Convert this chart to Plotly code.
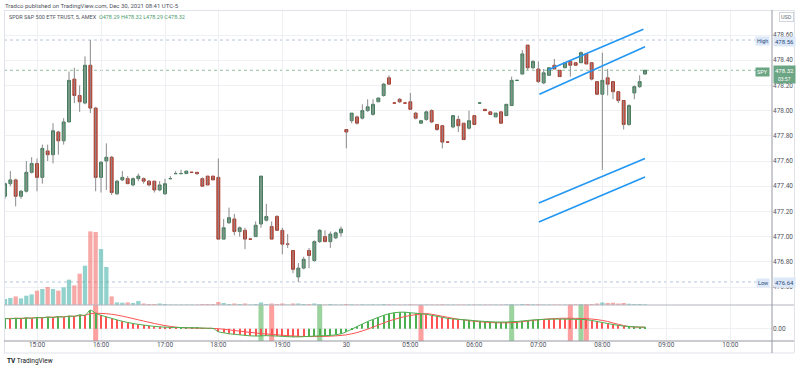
import plotly.graph_objects as go

# ---------------- data ----------------
bar_index = list(range(121))
opens = [477.32,477.42,477.45,477.32,477.36,477.51,477.58,477.47,477.68,477.65,477.83,477.76,477.91,478.25,478.12,478.06,478.36,478.02,477.47,477.60,
         477.63,477.34,477.45,477.46,477.41,477.46,477.46,477.44,477.44,477.37,477.34,477.46,477.50,477.50,477.50,477.51,477.51,477.46,477.48,477.48,
         477.47,476.98,477.11,477.14,477.04,477.05,476.98,477.00,477.10,477.13,477.08,477.16,477.05,476.94,476.89,476.68,476.75,476.89,476.81,476.96,
         477.00,476.96,476.99,477.03,477.85,477.92,477.95,477.94,478.00,477.97,478.07,478.12,478.26,478.06,478.09,478.06,478.07,477.98,477.90,477.93,
         478.00,477.89,477.88,477.75,477.87,477.93,477.90,477.86,477.96,478.06,478.01,477.99,477.95,477.99,477.96,478.04,478.24,478.29,478.52,478.34,
         478.33,478.22,478.28,478.36,478.32,478.34,478.39,478.38,478.38,478.45,478.38,478.23,478.13,478.26,478.23,478.15,478.08,477.89,478.14,478.19,
         478.29]
highs = [477.43,477.52,477.46,477.37,477.60,477.63,477.62,477.73,477.73,477.90,477.84,477.94,478.31,478.34,478.20,478.43,478.56,478.03,477.60,477.74,
         477.64,477.45,477.52,477.48,477.47,477.50,477.47,477.45,477.44,477.44,477.46,477.48,477.52,477.53,477.52,477.51,477.51,477.47,477.48,477.48,
         477.62,477.14,477.23,477.18,477.08,477.07,476.99,477.12,477.48,477.26,477.12,477.17,477.07,477.02,476.89,476.79,476.84,476.91,476.97,477.06,
         477.05,477.04,477.04,477.08,477.85,477.98,477.96,478.05,478.09,478.09,478.10,478.22,478.28,478.06,478.10,478.06,478.14,477.99,477.92,478.00,
         478.01,477.89,477.88,477.75,477.96,477.96,477.90,478.00,477.96,478.06,478.01,477.99,477.98,477.99,478.05,478.27,478.24,478.48,478.52,478.40,
         478.39,478.33,478.34,478.41,478.32,478.38,478.39,478.38,478.47,478.45,478.38,478.23,478.46,478.33,478.23,478.15,478.08,478.05,478.20,478.28,
         478.32]
lows = [477.30,477.40,477.24,477.30,477.35,477.50,477.36,477.42,477.60,477.58,477.65,477.73,477.91,478.06,477.99,478.05,477.98,477.36,477.35,477.37,
        477.33,477.33,477.44,477.42,477.40,477.44,477.42,477.40,477.35,477.36,477.33,477.46,477.50,477.50,477.50,477.51,477.49,477.40,477.41,477.45,
        476.98,476.98,477.10,477.01,477.00,476.90,476.98,477.00,477.07,477.12,476.98,477.05,476.86,476.91,476.71,476.64,476.74,476.75,476.80,476.95,
        476.96,476.91,476.98,477.00,477.70,477.90,477.89,477.93,477.99,477.96,478.07,478.11,478.21,478.06,478.06,478.06,478.01,477.93,477.90,477.92,
        477.90,477.84,477.70,477.75,477.86,477.83,477.77,477.85,477.89,478.06,478.00,477.97,477.95,477.90,477.96,478.04,478.24,478.29,478.32,478.33,
        478.22,478.21,478.28,478.33,478.27,478.34,478.27,478.36,478.38,478.37,478.24,478.13,477.53,478.12,478.09,478.06,477.85,477.88,478.09,478.18,
        478.29]
closes = [477.42,477.45,477.32,477.36,477.51,477.58,477.47,477.70,477.65,477.84,477.76,477.91,478.24,478.12,478.07,478.36,478.02,477.47,477.59,477.63,
          477.35,477.44,477.47,477.42,477.46,477.48,477.44,477.41,477.37,477.41,477.42,477.46,477.50,477.50,477.52,477.51,477.50,477.40,477.41,477.45,
          476.98,477.07,477.15,477.04,477.07,476.98,476.98,477.09,477.48,477.16,476.98,477.05,476.94,476.94,476.74,476.75,476.82,476.85,476.96,477.05,
          476.96,477.02,477.03,477.06,477.83,477.98,477.90,478.00,478.03,478.05,478.10,478.21,478.21,478.06,478.07,478.06,478.01,477.94,477.92,477.99,
          477.91,477.85,477.75,477.75,477.96,477.88,477.77,477.92,477.89,478.06,478.00,477.97,477.98,477.90,478.05,478.24,478.24,478.45,478.34,478.39,
          478.23,478.30,478.34,478.33,478.27,478.38,478.36,478.36,478.46,478.37,478.25,478.13,478.24,478.21,478.15,478.08,477.89,478.04,478.19,478.23,
          478.32]
volume_k = [120,140,172,132,186,212,286,320,360,320,286,352,506,392,626,786,1472,1460,1120,760,
            172,52,46,52,40,80,30,20,20,30,20,10,10,10,10,10,10,20,20,20,
            60,40,20,30,20,30,10,20,50,20,30,20,30,10,30,30,20,20,30,20,
            10,20,10,10,20,15,10,15,10,15,10,20,15,10,10,10,15,10,10,10,
            10,10,15,10,10,10,10,10,10,10,10,10,10,10,15,20,10,20,20,15,
            15,10,10,10,10,10,15,15,20,20,20,30,50,40,45,30,40,25,20,20,
            15]
osc_fast = [0.100,0.095,0.102,0.097,0.106,0.100,0.110,0.104,0.114,0.108,0.118,0.112,0.124,0.118,0.135,0.128,0.18,0.15,0.13,0.115,
            0.100,0.085,0.072,0.060,0.050,0.042,0.035,0.028,0.022,0.018,0.015,0.012,0.012,0.011,0.010,0.009,0.008,0.006,0.004,0.002,
            -0.03,-0.04,-0.05,-0.055,-0.06,-0.065,-0.07,-0.072,-0.07,-0.068,-0.07,-0.072,-0.075,-0.078,-0.08,-0.08,-0.078,-0.075,-0.072,-0.07,
            -0.068,-0.066,-0.06,-0.05,-0.03,-0.005,0.02,0.045,0.07,0.09,0.11,0.13,0.145,0.155,0.16,0.16,0.155,0.15,0.145,0.14,
            0.13,0.12,0.11,0.10,0.095,0.09,0.087,0.083,0.078,0.074,0.070,0.067,0.065,0.064,0.065,0.068,0.070,0.075,0.080,0.085,
            0.088,0.090,0.092,0.093,0.093,0.093,0.092,0.091,0.090,0.087,0.080,0.070,0.060,0.050,0.040,0.032,0.025,0.021,0.018,0.016,
            0.015]
osc_slow = [0.098,0.099,0.100,0.101,0.102,0.104,0.106,0.108,0.110,0.112,0.114,0.116,0.119,0.122,0.126,0.131,0.145,0.15,0.148,0.145,
            0.140,0.132,0.122,0.110,0.098,0.086,0.074,0.062,0.050,0.040,0.030,0.022,0.015,0.010,0.008,0.006,0.005,0.004,0.003,0.002,
            0.0,-0.006,-0.012,-0.018,-0.024,-0.03,-0.036,-0.042,-0.047,-0.052,-0.056,-0.06,-0.064,-0.068,-0.071,-0.074,-0.076,-0.077,-0.077,-0.076,
            -0.075,-0.073,-0.07,-0.066,-0.06,-0.05,-0.038,-0.022,-0.005,0.015,0.035,0.055,0.075,0.09,0.105,0.118,0.128,0.136,0.142,0.146,
            0.140,0.130,0.120,0.110,0.100,0.092,0.085,0.078,0.072,0.067,0.063,0.060,0.058,0.057,0.057,0.058,0.062,0.068,0.074,0.080,
            0.086,0.091,0.095,0.098,0.100,0.101,0.101,0.100,0.099,0.097,0.094,0.088,0.080,0.070,0.055,0.042,0.030,0.020,0.016,0.014,
            0.013]
signal_up_bars = [48, 59, 95, 108]
signal_down_bars = [17, 50, 78, 106, 109]
tick_positions = [6, 18, 30, 40, 52, 64, 76, 88, 100, 112, 124, 136]
tick_labels = ['15:00', '16:00', '17:00', '18:00', '19:00', '30', '05:00', '06:00', '07:00', '08:00', '09:00', '10:00']
price_ticks = [476.60, 476.80, 477.00, 477.20, 477.40, 477.60, 477.80, 478.00, 478.20, 478.40, 478.60]
# trend lines: (start bar, start price, end bar, end price)
trend_lines = [(100.2, 478.13, 120.0, 478.507),
               (101.9, 478.325, 119.7, 478.645),
               (100.1, 477.267, 120.0, 477.62),
               (100.1, 477.116, 120.0, 477.473)]

# ---------------- styling ----------------
W, H = 800, 368
def px(x): return x / W
def py(y): return 1 - y / H

UP, DN = '#6ba583', '#d75442'
UP_B, DN_B = '#3f7a58', '#a83a2c'
WICK = '#8a8a8c'
FONT = 'Roboto'
TXT = '#4c525e'

fig = go.Figure()

vol_colors = ['rgba(38,166,154,0.5)' if c >= o else 'rgba(239,83,80,0.5)' for o, c in zip(opens, closes)]
fig.add_trace(go.Bar(x=bar_index, y=volume_k, marker=dict(color=vol_colors, line=dict(width=0)),
                     width=0.8, yaxis='y2', hoverinfo='skip'))

wx, wy = [], []
for i, h, l in zip(bar_index, highs, lows):
    wx += [i, i, None]
    wy += [l, h, None]
fig.add_trace(go.Scatter(x=wx, y=wy, mode='lines', line=dict(color=WICK, width=1), yaxis='y', hoverinfo='skip'))

body_hi = [max(o, c) for o, c in zip(opens, closes)]
body_lo = [min(o, c) for o, c in zip(opens, closes)]
fig.add_trace(go.Candlestick(x=bar_index, open=opens, high=body_hi, low=body_lo, close=closes,
                             increasing=dict(fillcolor=UP, line=dict(color=UP_B, width=1)),
                             decreasing=dict(fillcolor=DN, line=dict(color=DN_B, width=1)),
                             whiskerwidth=0, yaxis='y', hoverinfo='skip'))

for (x0, y0, x1, y1) in trend_lines:
    fig.add_trace(go.Scatter(x=[x0, x1], y=[y0, y1], mode='lines', line=dict(color='#2196f3', width=1.6),
                             yaxis='y', hoverinfo='skip'))

OSC_LO, OSC_HI = -0.12, 0.23
fig.add_trace(go.Bar(x=signal_up_bars, y=[OSC_HI - OSC_LO] * len(signal_up_bars), base=OSC_LO,
                     width=0.95, marker=dict(color='rgba(76,175,80,0.55)', line=dict(width=0)), yaxis='y3', hoverinfo='skip'))
fig.add_trace(go.Bar(x=signal_down_bars, y=[OSC_HI - OSC_LO] * len(signal_down_bars), base=OSC_LO,
                     width=0.95, marker=dict(color='rgba(255,82,82,0.55)', line=dict(width=0)), yaxis='y3', hoverinfo='skip'))
hist_colors = ['#4caf50' if f >= s else '#ff5252' for f, s in zip(osc_fast, osc_slow)]
fig.add_trace(go.Bar(x=bar_index, y=osc_fast, width=0.25, marker=dict(color=hist_colors, line=dict(width=0)),
                     yaxis='y3', hoverinfo='skip'))
fig.add_trace(go.Scatter(x=bar_index, y=osc_slow, mode='lines', line=dict(color='#ff5252', width=1, shape='spline'),
                         yaxis='y3', hoverinfo='skip'))
fig.add_trace(go.Scatter(x=bar_index, y=osc_fast, mode='lines', line=dict(color='#4caf50', width=1, shape='spline'),
                         yaxis='y3', hoverinfo='skip'))

price_top = 478.60 + (35 - 10) / 126
price_bot = 478.60 - (305 - 35) / 126
x_lo = (4 - 5) / 5.3333
x_hi = (772 - 5) / 5.3333

max_high = max(highs)
min_low = min(lows)
last_close = closes[-1]

shapes = []
def hline_price(p, color, dash):
    shapes.append(dict(type='line', xref='paper', yref='y', x0=px(4), x1=px(772), y0=p, y1=p,
                       line=dict(color=color, width=1, dash=dash), layer='below'))
hline_price(max_high, '#b4c4dc', 'dot')
hline_price(min_low, '#b4c4dc', 'dot')
hline_price(last_close, '#8fbea2', 'dot')

def pline(x0, y0, x1, y1, color, width=1):
    shapes.append(dict(type='line', xref='paper', yref='paper', x0=px(x0), x1=px(x1), y0=py(y0), y1=py(y1),
                       line=dict(color=color, width=width)))
pline(4, 10.5, 794, 10.5, '#e0e3eb')
pline(4, 353, 794, 353, '#e0e3eb')
pline(4.5, 10, 4.5, 353, '#e0e3eb')
pline(794.5, 10, 794.5, 353, '#e0e3eb')
pline(4, 305, 794, 305, '#b2b5be')
pline(4, 341, 794, 341, '#9598a1')
pline(772, 10, 772, 353, '#9598a1')

ann = []
def text(x, y, t, size=6, color=TXT, anchor='left', bg=None, border=None, pad=1, yanchor='middle'):
    d = dict(x=px(x), y=py(y), xref='paper', yref='paper', text=t, showarrow=False, xanchor=anchor, yanchor=yanchor,
             font=dict(family=FONT, size=size, color=color), borderpad=pad)
    if bg: d['bgcolor'] = bg
    if border:
        d['bordercolor'] = border
        d['borderwidth'] = 1
    ann.append(d)

text(3, 5, 'Tradco published on TradingView.com, Dec 30, 2021 08:41 UTC-5', size=6, color='#50535e')
text(7, 17, 'SPDR S&P 500 ETF TRUST, 5, AMEX  <span style="color:#4e9a6e">O478.29 H478.32 L478.29 C478.32</span>',
     size=5.5, color='#50535e')
text(786, 17, 'USD', size=5.5, color='#6a6d78', anchor='center', border='#d1d4dc', pad=1, bg='white')
text(770, 41, 'High', size=5.5, color='#2a4c7a', anchor='right', bg='#dce8f8', pad=1)
text(773, 41, f'{max_high:.2f}', size=6, color='#2a4c7a', anchor='left', bg='#dce8f8', pad=1)
text(770, 282.5, 'Low', size=5.5, color='#2a4c7a', anchor='right', bg='#dce8f8', pad=1)
text(773, 282.5, f'{min_low:.2f}', size=6, color='#2a4c7a', anchor='left', bg='#dce8f8', pad=1)
text(770, 71.5, 'SPY', size=5.5, color='white', anchor='right', bg='#6ba583', pad=1)
text(773, 74, f'{last_close:.2f}<br><span style="font-size:5px">03:57</span>', size=6, color='white',
     anchor='left', bg='#6ba583', pad=1)
text(5, 361, '<b>TV</b> TradingView', size=6.5, color='#131722')

fig.update_layout(
    width=W, height=H, margin=dict(l=0, r=0, t=0, b=0),
    paper_bgcolor='white', plot_bgcolor='white', showlegend=False,
    barmode='overlay', boxgap=0.22,
    xaxis=dict(domain=[px(4), px(772)], range=[x_lo, x_hi], anchor='y3', showgrid=True, gridcolor='#eef0f4',
               gridwidth=1, tickmode='array', tickvals=tick_positions, ticktext=tick_labels, ticks='',
               ticklabelstandoff=-2,
               tickfont=dict(family=FONT, size=6.5, color='#50535e'), zeroline=False, showline=False,
               rangeslider=dict(visible=False), fixedrange=True),
    yaxis=dict(domain=[1 - 305 / H, 1 - 10 / H], range=[price_bot, price_top], side='right', anchor='x',
               tickmode='array', tickvals=price_ticks, ticktext=[f'{v:.2f}' for v in price_ticks],
               showgrid=True, gridcolor='#eef0f4', zeroline=False, ticks='', ticklabelstandoff=0,
               tickfont=dict(family=FONT, size=6.5, color='#50535e')),
    yaxis2=dict(domain=[1 - 305 / H, 1 - 10 / H], range=[0, 5900], overlaying='y', side='left', visible=False),
    yaxis3=dict(domain=[1 - 341 / H, 1 - 305 / H], range=[OSC_LO, OSC_HI], side='right', anchor='x',
                tickmode='array', tickvals=[0], ticktext=['0.00'], showgrid=True, gridcolor='#eef0f4',
                zeroline=False, ticks='', ticklabelstandoff=0, tickfont=dict(family=FONT, size=6.5, color='#50535e')),
    shapes=shapes, annotations=ann,
)

fig.write_html('out.html', config={'displayModeBar': False},
               post_script="document.body.style.margin='0';document.body.style.padding='0';")
